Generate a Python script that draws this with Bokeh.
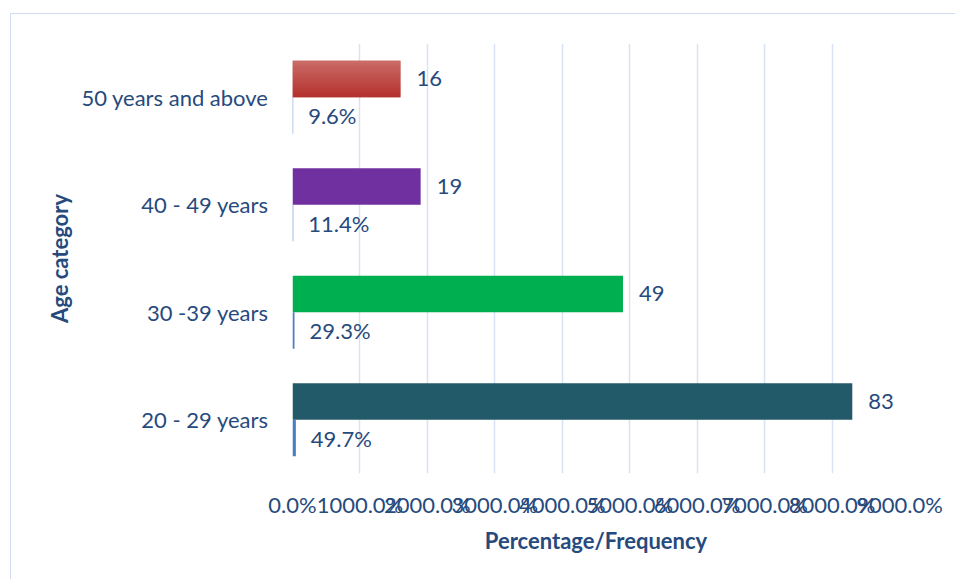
from bokeh.plotting import figure
from bokeh.models import (ColumnDataSource, FactorRange, Range1d, FixedTicker,
                          CDSView, IndexFilter)
from bokeh.transform import dodge
from bokeh.core.properties import value
from bokeh.embed import file_html
from bokeh.resources import INLINE

# Age groups, bottom to top
categories = ["20 - 29 years", "30 -39 years", "40 - 49 years", "50 years and above"]
frequency = [83, 49, 19, 16]
percentage = [0.497, 0.293, 0.114, 0.096]
bar_colors = ["#235A69", "#00B050", "#7030A0", "#C0504D"]
x_ticks = [0, 10, 20, 30, 40, 50, 60, 70, 80, 90]

FONT = "Lato"
FS = "22px"
TEXT = "#274A7D"
BAR_H = 0.34
OFF = 0.17

source = ColumnDataSource(dict(
    cat=categories,
    freq=frequency,
    pct=percentage,
    color=bar_colors,
    freq_label=[str(f) for f in frequency],
    pct_label=[f"{p * 100:.1f}%" for p in percentage],
))

p = figure(width=945, height=566,
           y_range=FactorRange(*categories, range_padding=0),
           x_range=Range1d(0, 90),
           output_backend="svg", toolbar_location=None,
           min_border_left=281, min_border_right=57,
           min_border_top=29, min_border_bottom=107)
p.outline_line_color = None
p.background_fill_color = "white"
p.border_fill_color = "white"
# chart-area border on the left and top edges
p.styles = {"margin-left": "10px", "margin-top": "13px",
            "border-left": "1px solid #D0DCEE", "border-top": "1px solid #D0DCEE"}

# frequency bars (upper) and percentage bars (lower)
p.hbar(y=dodge("cat", OFF, range=p.y_range), left=0, right="freq", height=BAR_H,
       fill_color="color", line_color=None, source=source)

# soft vertical gradient on the red bar
top_rgb = (0xCB, 0x6B, 0x67)
bot_rgb = (0xB4, 0x31, 0x2E)
n_strips = 16
strip_h = BAR_H / n_strips
red_view = CDSView(filter=IndexFilter([3]))
for i in range(n_strips):
    t = i / (n_strips - 1)
    c = tuple(round(a + (b - a) * t) for a, b in zip(top_rgb, bot_rgb))
    off = OFF + BAR_H / 2 - (i + 0.5) * strip_h
    p.hbar(y=dodge("cat", off, range=p.y_range), left=0, right="freq",
           height=strip_h * 1.05, fill_color="#%02X%02X%02X" % c, line_color=None,
           source=source, view=red_view)

p.hbar(y=dodge("cat", -OFF, range=p.y_range), left=0, right="pct", height=BAR_H,
       fill_color="#4A7DC2", line_color=None, source=source)

# value labels
p.text(x="freq", y=dodge("cat", OFF, range=p.y_range), text="freq_label",
       x_offset=16, text_baseline="middle", text_align="left",
       text_font=value(FONT), text_font_size=FS, text_color=TEXT, source=source)
p.text(x="pct", y=dodge("cat", -OFF, range=p.y_range), text="pct_label",
       x_offset=15, text_baseline="middle", text_align="left",
       text_font=value(FONT), text_font_size=FS, text_color=TEXT, source=source)

# axes
p.xaxis.ticker = FixedTicker(ticks=x_ticks)
p.xaxis.major_label_overrides = {t: f"{t * 100:.1f}%" for t in x_ticks}
for ax in (p.xaxis[0], p.yaxis[0]):
    ax.axis_line_color = None
    ax.major_tick_line_color = None
    ax.minor_tick_line_color = None
    ax.major_tick_out = 0
    ax.major_tick_in = 0
    ax.major_label_text_font = FONT
    ax.major_label_text_font_size = FS
    ax.major_label_text_color = TEXT
    ax.axis_label_text_font = FONT
    ax.axis_label_text_font_size = FS
    ax.axis_label_text_font_style = "bold"
    ax.axis_label_text_color = TEXT

p.xaxis.axis_label = "Percentage/Frequency"
p.yaxis.axis_label = "Age category"
p.xaxis.major_label_standoff = 17
p.xaxis.axis_label_standoff = 6
p.yaxis.major_label_standoff = 24
p.yaxis.axis_label_standoff = 5

p.ygrid.grid_line_color = None
p.xgrid.grid_line_color = "#D8E3F3"
p.xgrid.grid_line_width = 1.5

open("out.html", "w").write(file_html(p, INLINE))
